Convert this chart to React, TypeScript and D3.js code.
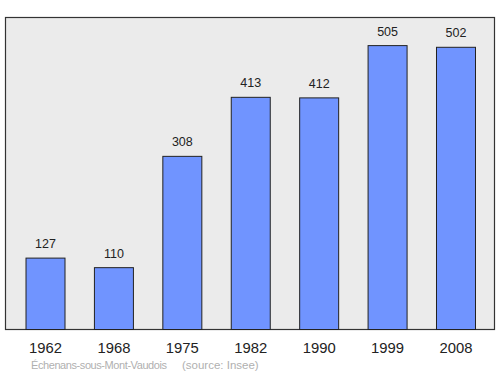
import React, { useEffect, useRef } from "react";
import { select, scaleBand, scaleLinear } from "d3";

const years = ["1962", "1968", "1975", "1982", "1990", "1999", "2008"];
const population = [127, 110, 308, 413, 412, 505, 502];
const commune = "Échenans-sous-Mont-Vaudois";
const source = "(source: Insee)";

export default function App() {
  const svgRef = useRef<SVGSVGElement>(null);

  useEffect(() => {
    const svg = select(svgRef.current);
    svg.selectAll("*").remove();

    const frame = { left: 5.5, top: 17.5, right: 494.5, bottom: 329.5 };
    const font = "Liberation Sans, Arial, sans-serif";

    const x = scaleBand()
      .domain(years)
      .range([11.3, 490.2])
      .paddingInner(0.43)
      .paddingOuter(0.215);

    const y = scaleLinear()
      .domain([0, 555])
      .range([frame.bottom, frame.top]);

    svg
      .append("rect")
      .attr("x", frame.left)
      .attr("y", frame.top)
      .attr("width", frame.right - frame.left)
      .attr("height", frame.bottom - frame.top)
      .attr("fill", "#ebebeb")
      .attr("stroke", "#333")
      .attr("stroke-width", 1.2);

    const data = years.map((yr, i) => ({ year: yr, value: population[i] }));

    svg
      .selectAll(".bar")
      .data(data)
      .join("rect")
      .attr("class", "bar")
      .attr("x", d => x(d.year)!)
      .attr("y", d => y(d.value))
      .attr("width", x.bandwidth())
      .attr("height", d => frame.bottom - y(d.value))
      .attr("fill", "#7094ff")
      .attr("stroke", "#222")
      .attr("stroke-width", 1);

    svg
      .selectAll(".value")
      .data(data)
      .join("text")
      .attr("class", "value")
      .attr("x", d => x(d.year)! + x.bandwidth() / 2)
      .attr("y", d => y(d.value) - 10)
      .attr("text-anchor", "middle")
      .attr("font-family", font)
      .attr("font-size", 12.5)
      .attr("fill", "#222")
      .text(d => d.value);

    svg
      .selectAll(".year")
      .data(years)
      .join("text")
      .attr("class", "year")
      .attr("x", d => x(d)! + x.bandwidth() / 2)
      .attr("y", 352.5)
      .attr("text-anchor", "middle")
      .attr("font-family", font)
      .attr("font-size", 14.8)
      .attr("fill", "#222")
      .text(d => d);

    // caption: commune name, then the source a little further right
    svg
      .append("text")
      .attr("x", 31)
      .attr("y", 369)
      .attr("font-family", font)
      .attr("font-size", 11)
      .attr("letter-spacing", -0.42)
      .attr("fill", "#b0b0b0")
      .text(commune);
    svg
      .append("text")
      .attr("x", 182)
      .attr("y", 369)
      .attr("font-family", font)
      .attr("font-size", 11.5)
      .attr("fill", "#b0b0b0")
      .text(source);
  }, []);

  return (
    <svg
      ref={svgRef}
      width={500}
      height={374}
      style={{ position: "absolute", left: 0, top: 0 }}
    />
  );
}
